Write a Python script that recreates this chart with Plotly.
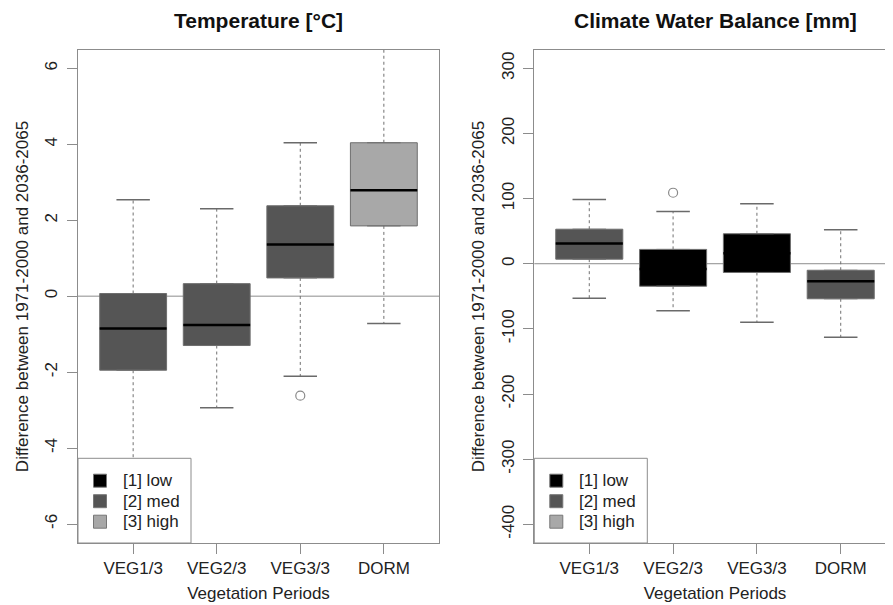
import plotly.graph_objects as go

# ---------------- data ----------------
categories = ["VEG1/3", "VEG2/3", "VEG3/3", "DORM"]
levels = ["[1] low", "[2] med", "[3] high"]
level_colors = {"[1] low": "#000000", "[2] med": "#555555", "[3] high": "#A8A8A8"}

temp_level = ["[2] med", "[2] med", "[2] med", "[3] high"]
temp_q1 = [-1.95, -1.30, 0.48, 1.85]
temp_med = [-0.85, -0.76, 1.36, 2.79]
temp_q3 = [0.07, 0.33, 2.38, 4.04]
temp_lo = [-5.3, -2.94, -2.11, -0.72]
temp_hi = [2.54, 2.30, 4.04, 7.2]
temp_out_cat = ["VEG3/3"]
temp_out_val = [-2.62]

cwb_level = ["[2] med", "[1] low", "[1] low", "[2] med"]
cwb_q1 = [7.0, -34.5, -13.4, -53.8]
cwb_med = [31.0, -8.0, 16.0, -27.0]
cwb_q3 = [53.0, 22.0, 46.0, -10.0]
cwb_lo = [-53.0, -72.0, -90.0, -113.0]
cwb_hi = [98.5, 80.0, 92.0, 52.0]
cwb_out_cat = ["VEG2/3"]
cwb_out_val = [109.0]

temp_ticks = [-6, -4, -2, 0, 2, 4, 6]
cwb_ticks = [-400, -300, -200, -100, 0, 100, 200, 300]

# ---------------- styling / layout geometry ----------------
W, H = 893, 605
OFF = 8  # page body margin of the rendered html
FONT = "Liberation Sans, Arial, sans-serif"
TXT = "#222222"
FRAME = "#8c8c8c"
BOXW = 0.8
CAPW = 0.4


def fx(px):
    return (px - OFF) / W


def fy(py):
    return 1 - (py - OFF) / H


PLOT_TOP, PLOT_BOT = 50, 543
P1_L, P1_R = 78, 439
P2_L, P2_R = 534.3, 895.7

fig = go.Figure()


def add_panel(xa, ya, lev, q1, med, q3, lo, hi, out_cat, out_val):
    pos = list(range(1, len(categories) + 1))
    for lv in levels:
        idx = [i for i, l in enumerate(lev) if l == lv]
        if not idx:
            continue
        fig.add_trace(go.Box(
            x=[pos[i] for i in idx], q1=[q1[i] for i in idx], median=[med[i] for i in idx],
            q3=[q3[i] for i in idx], lowerfence=[q1[i] for i in idx], upperfence=[q3[i] for i in idx],
            width=BOXW, fillcolor=level_colors[lv], line=dict(color="#6e6e6e", width=1),
            name=lv, xaxis=xa, yaxis=ya, showlegend=False, hoverinfo="skip"))
    wx, wy = [], []
    for i, p in enumerate(pos):
        wx += [p, p, None, p, p, None]
        wy += [q3[i], hi[i], None, q1[i], lo[i], None]
    fig.add_trace(go.Scatter(x=wx, y=wy, mode="lines", line=dict(color="#707070", width=1, dash="dot"),
                             xaxis=xa, yaxis=ya, showlegend=False, hoverinfo="skip"))
    sx, sy = [], []
    for i, p in enumerate(pos):
        sx += [p - CAPW / 2, p + CAPW / 2, None, p - CAPW / 2, p + CAPW / 2, None]
        sy += [hi[i], hi[i], None, lo[i], lo[i], None]
    fig.add_trace(go.Scatter(x=sx, y=sy, mode="lines", line=dict(color="#6a6a6a", width=1.5),
                             xaxis=xa, yaxis=ya, showlegend=False, hoverinfo="skip"))
    mx, my = [], []
    for i, p in enumerate(pos):
        mx += [p - BOXW / 2, p + BOXW / 2, None]
        my += [med[i], med[i], None]
    fig.add_trace(go.Scatter(x=mx, y=my, mode="lines", line=dict(color="#000000", width=2.5),
                             xaxis=xa, yaxis=ya, showlegend=False, hoverinfo="skip"))
    fig.add_trace(go.Scatter(x=[categories.index(c) + 1 for c in out_cat], y=out_val, mode="markers",
                             marker=dict(symbol="circle-open", size=9, color="#8a8a8a", line=dict(width=1.2)),
                             xaxis=xa, yaxis=ya, showlegend=False, hoverinfo="skip"))


add_panel("x", "y", temp_level, temp_q1, temp_med, temp_q3, temp_lo, temp_hi, temp_out_cat, temp_out_val)
add_panel("x2", "y2", cwb_level, cwb_q1, cwb_med, cwb_q3, cwb_lo, cwb_hi, cwb_out_cat, cwb_out_val)

ydom = [fy(PLOT_BOT), fy(PLOT_TOP)]
xdom1 = [fx(P1_L), fx(P1_R)]
xdom2 = [fx(P2_L), fx(P2_R)]

axis_common = dict(showgrid=False, zeroline=False, ticks="outside", ticklen=10, tickcolor=FRAME,
                   tickwidth=1, linecolor=FRAME, linewidth=1, showline=True, automargin=False, mirror=True,
                   tickfont=dict(size=17, color=TXT, family=FONT))
ytitle = "Difference between 1971-2000 and 2036-2065"
tickpos = list(range(1, len(categories) + 1))

# manual R-style legends (box in lower-left corner of each panel)
shapes, annots = [], []
for left in (P1_L, P2_L):
    shapes.append(dict(type="rect", xref="paper", yref="paper", x0=fx(left), x1=fx(left + 113),
                       y0=fy(PLOT_BOT), y1=fy(458.3), fillcolor="white", line=dict(color=FRAME, width=1),
                       layer="above"))
    for k, lv in enumerate(levels):
        cy = 480.7 + 20.5 * k
        shapes.append(dict(type="rect", xref="paper", yref="paper", x0=fx(left + 15.5), x1=fx(left + 28.5),
                           y0=fy(cy + 6.5), y1=fy(cy - 6.5), fillcolor=level_colors[lv],
                           line=dict(color="#777777", width=1), layer="above"))
        annots.append(dict(text=lv, x=fx(left + 43), y=fy(cy), xref="paper", yref="paper", xanchor="left",
                           yanchor="middle", showarrow=False, font=dict(size=17, color=TXT)))

for xa, ya in (("x", "y"), ("x2", "y2")):
    shapes.insert(0, dict(type="line", xref=xa + " domain", yref=ya, x0=0, x1=1, y0=0, y1=0, layer="below",
                          line=dict(color="#8c8c8c", width=1)))

annots += [
    dict(text="<b>Temperature [°C]</b>", x=fx((P1_L + P1_R) / 2), y=fy(20.7), xref="paper", yref="paper",
         xanchor="center", yanchor="middle", showarrow=False, font=dict(size=21, color="#111111")),
    dict(text="<b>Climate Water Balance [mm]</b>", x=fx((P2_L + P2_R) / 2), y=fy(20.7), xref="paper",
         yref="paper", xanchor="center", yanchor="middle", showarrow=False, font=dict(size=21, color="#111111")),
]

fig.update_layout(
    width=W, height=H, margin=dict(l=0, r=0, t=0, b=0), showlegend=False,
    paper_bgcolor="white", plot_bgcolor="white", boxmode="overlay",
    font=dict(family=FONT, color=TXT, size=17),
    xaxis=dict(domain=xdom1, range=[0.34, 4.66], tickvals=tickpos, ticktext=categories,
               title=dict(text="Vegetation Periods", standoff=9, font=dict(size=17)), **axis_common),
    yaxis=dict(domain=ydom, range=[-6.5, 6.482], tickvals=temp_ticks, ticktext=[str(v) for v in temp_ticks],
               tickangle=-90, ticklabelstandoff=3,
               title=dict(text=ytitle, standoff=9, font=dict(size=17)), **axis_common),
    xaxis2=dict(domain=xdom2, range=[0.344, 4.656], tickvals=tickpos, ticktext=categories, anchor="y2",
                title=dict(text="Vegetation Periods", standoff=9, font=dict(size=17)), **axis_common),
    yaxis2=dict(domain=ydom, range=[-428.7, 328.1], tickvals=cwb_ticks, ticktext=[str(v) for v in cwb_ticks],
                tickangle=-90, anchor="x2", ticklabelstandoff=3,
                title=dict(text=ytitle, standoff=9, font=dict(size=17)), **axis_common),
    annotations=annots,
    shapes=shapes,
)

fig.write_html("out.html")
